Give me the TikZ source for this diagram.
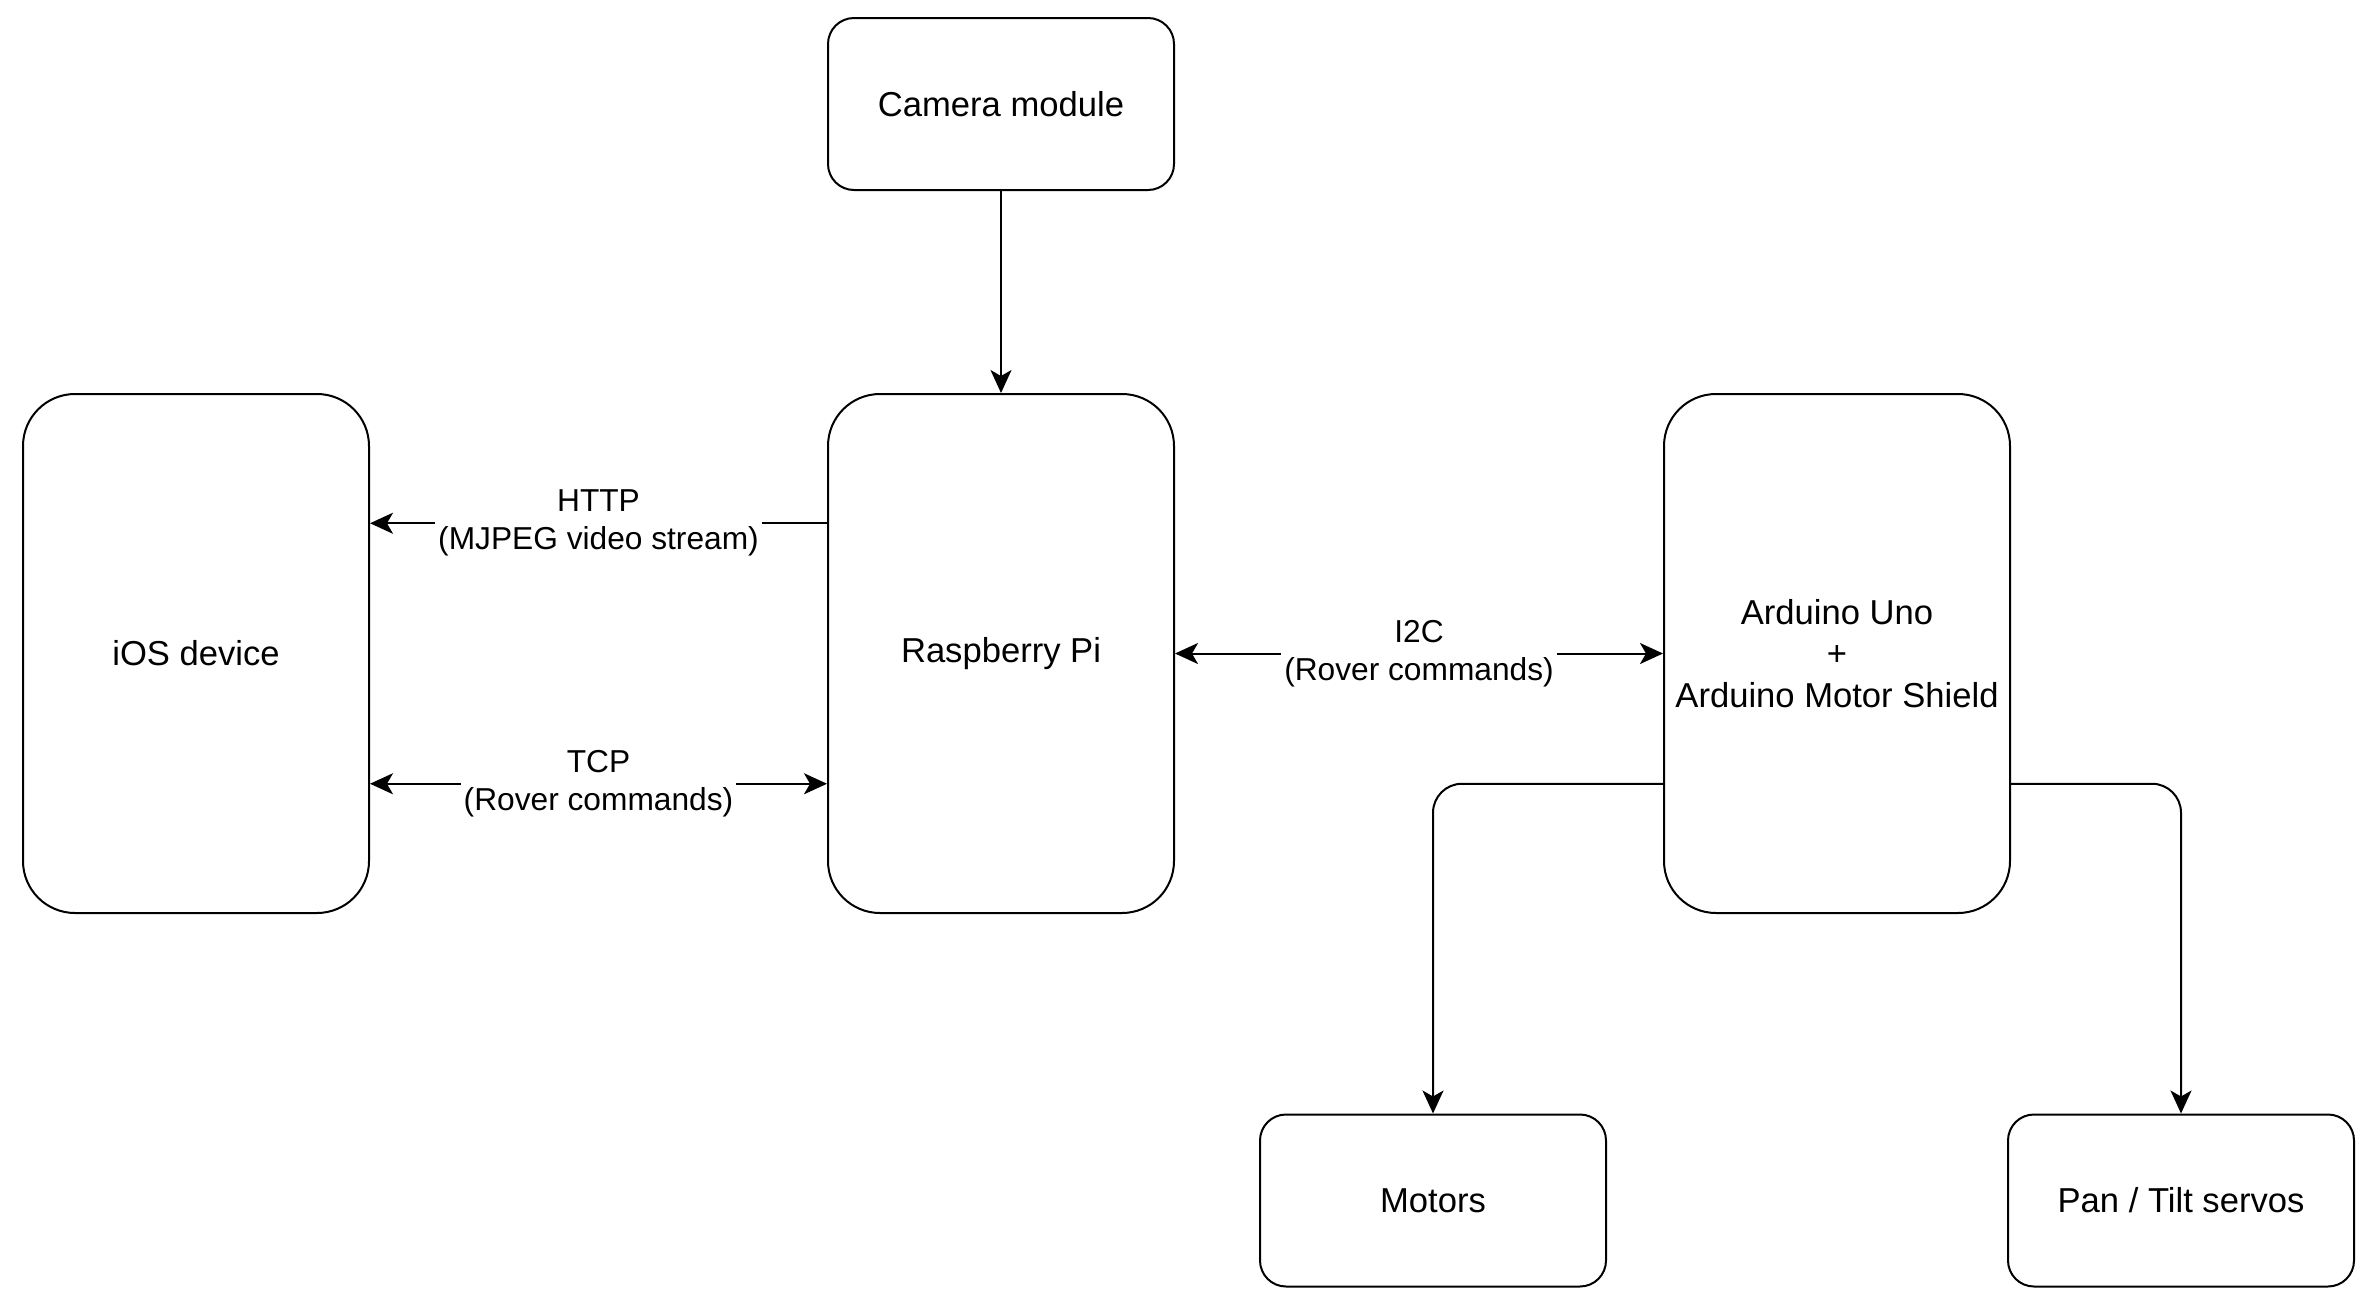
\documentclass[tikz,border=0pt]{standalone}
\usepackage{fontspec}
\setmainfont{Liberation Sans}
\usetikzlibrary{arrows.meta,calc}
\begin{document}
\begin{tikzpicture}[x=1pt,y=-1pt,
  box/.style={draw=black, line width=2pt, fill=white, align=center,
    font=\fontsize{34.6}{41.5}\selectfont, inner sep=0pt},
  tallbox/.style={box, minimum width=346pt, minimum height=519pt, rounded corners=52pt},
  smallbox/.style={box, minimum width=346pt, minimum height=172pt, rounded corners=26pt},
  arr/.style={line width=2pt, -{Stealth[length=23pt,width=21pt,inset=6pt]}},
  darr/.style={line width=2pt, {Stealth[length=23pt,width=21pt,inset=6pt]}-{Stealth[length=23pt,width=21pt,inset=6pt]}},
  lbl/.style={fill=white, align=center, inner sep=3pt,
    font=\fontsize{31.7}{38}\selectfont}
]
\useasboundingbox (0,0) rectangle (2370,1304);

\node[smallbox] (cam) at (1001,104) {Camera module};
\node[tallbox] (ios) at (196,653.5) {iOS device};
\node[tallbox] (pi) at (1001,653.5) {Raspberry Pi};
\node[tallbox] (ard) at (1837,653.5) {Arduino Uno\\+\\Arduino Motor Shield};
\node[smallbox] (mot) at (1433,1200.5) {Motors};
\node[smallbox] (pan) at (2181,1200.5) {Pan / Tilt servos};

\draw[arr] (cam.south) -- (pi.north);

\draw[arr] ($(pi.north west)!0.25!(pi.south west)$) -- ($(ios.north east)!0.25!(ios.south east)$)
  node[midway, lbl] {HTTP\\(MJPEG video stream)};
\draw[darr] ($(ios.north east)!0.75!(ios.south east)$) -- ($(pi.north west)!0.75!(pi.south west)$)
  node[midway, lbl] {TCP\\(Rover commands)};
\draw[darr] (pi.east) -- (ard.west)
  node[midway, lbl] {I2C\\(Rover commands)};

\draw[arr, rounded corners=29pt] ($(ard.north west)!0.75!(ard.south west)$) -| (mot.north);
\draw[arr, rounded corners=29pt] ($(ard.north east)!0.75!(ard.south east)$) -| (pan.north);
\end{tikzpicture}
\end{document}
